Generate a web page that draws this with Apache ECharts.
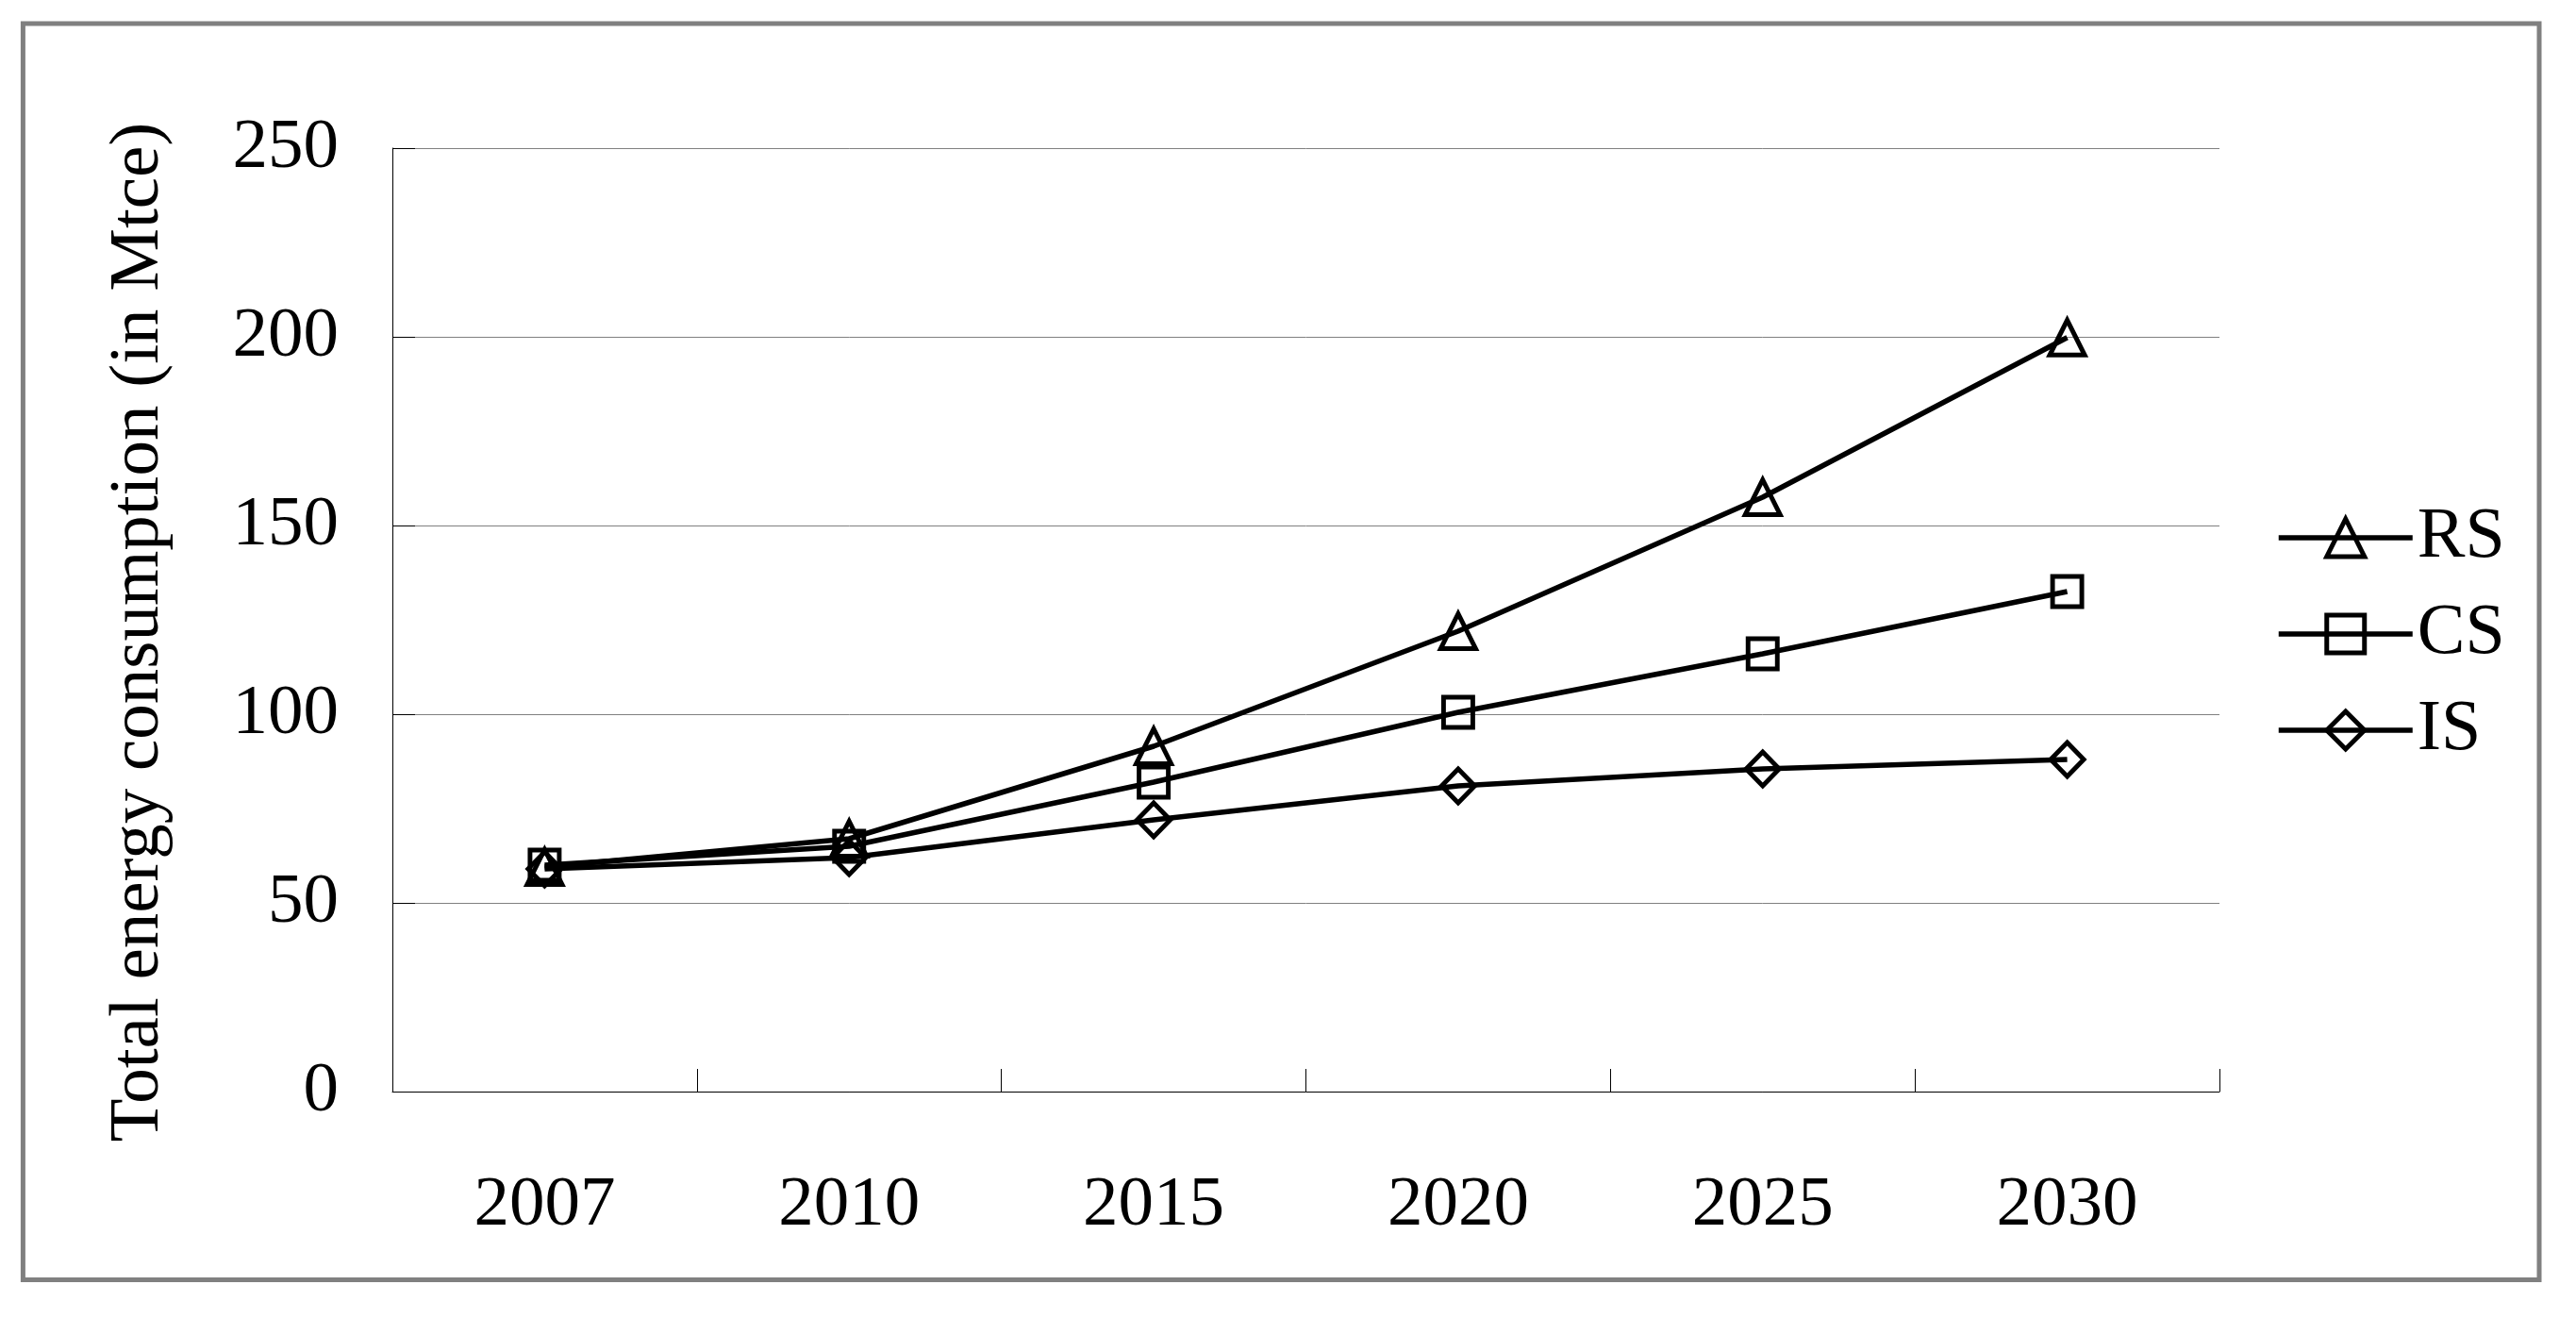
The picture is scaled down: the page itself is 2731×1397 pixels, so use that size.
<!DOCTYPE html>
<html>
<head>
<meta charset="utf-8">
<script src="https://cdn.jsdelivr.net/npm/echarts@6/dist/echarts.min.js"></script>
<style>
html, body { margin: 0; padding: 0; background: #fff; }
#chart { width: 2731px; height: 1397px; }
</style>
</head>
<body>
<div id="chart"></div>
<script>
const years = ['2007', '2010', '2015', '2020', '2025', '2030'];
const rsValues = [59.5, 67, 91.5, 122, 157.5, 199.8];
const csValues = [60, 65, 82, 100.5, 116, 132.5];
const isValues = [59, 62, 72, 81, 85.5, 88];
const yTicks = [0, 50, 100, 150, 200, 250];
const yAxisTitle = 'Total energy consumption (in Mtce)';

const FONT = "'Liberation Serif', 'Times New Roman', serif";
const chart = echarts.init(document.getElementById('chart'), null, { renderer: 'canvas' });

function lineSeries(name, data, symbol, size) {
  return {
    name: name,
    type: 'line',
    data: data,
    symbol: symbol,
    symbolSize: size,
    showSymbol: true,
    lineStyle: { color: '#000', width: 5.5 },
    itemStyle: { color: 'rgba(0,0,0,0)', borderColor: '#000', borderWidth: 5 },
    emphasis: { disabled: true },
    animation: false,
    z: 3
  };
}

chart.setOption({
  backgroundColor: '#fff',
  animation: false,
  graphic: [{
    type: 'rect',
    shape: { x: 24.4, y: 25, width: 2667.6, height: 1331.5 },
    style: { fill: 'none', stroke: '#808080', lineWidth: 5 },
    silent: true,
    z: -1
  }],
  grid: { left: 416, right: 378, top: 157, bottom: 240, containLabel: false },
  legend: {
    orient: 'vertical',
    left: 2413,
    top: 532,
    padding: 0,
    itemWidth: 142,
    itemHeight: 50,
    itemGap: 26,
    itemTextGap: 40,
    itemStyle: { color: 'rgba(0,0,0,0)', borderColor: '#000', borderWidth: 5 },
    lineStyle: { color: '#000', width: 5.5 },
    textStyle: { fontFamily: FONT, fontSize: 76, color: '#000' },
    data: ['RS', 'CS', 'IS']
  },
  xAxis: {
    type: 'category',
    data: years,
    boundaryGap: true,
    axisLine: { show: true, lineStyle: { color: '#000', width: 1 } },
    axisTick: { show: true, inside: true, length: 24, lineStyle: { color: '#000', width: 1 } },
    axisLabel: { fontFamily: FONT, fontSize: 75, color: '#000', margin: 84 },
    splitLine: { show: false }
  },
  yAxis: {
    type: 'value',
    min: yTicks[0],
    max: yTicks[yTicks.length - 1],
    interval: 50,
    name: yAxisTitle,
    nameLocation: 'middle',
    nameGap: 231,
    nameTextStyle: { fontFamily: FONT, fontSize: 75, color: '#000', padding: [0, 26, 0, 0] },
    axisLine: { show: true, lineStyle: { color: '#000', width: 1 } },
    axisTick: { show: true, inside: true, length: 24, lineStyle: { color: '#000', width: 1 } },
    axisLabel: { fontFamily: FONT, fontSize: 75, color: '#000', margin: 57 },
    splitLine: { show: true, lineStyle: { color: '#808080', width: 1 } }
  },
  series: [
    lineSeries('RS', rsValues, 'triangle', [37, 37]),
    lineSeries('CS', csValues, 'rect', [31, 32]),
    lineSeries('IS', isValues, 'diamond', [35, 36])
  ]
});
</script>
</body>
</html>
